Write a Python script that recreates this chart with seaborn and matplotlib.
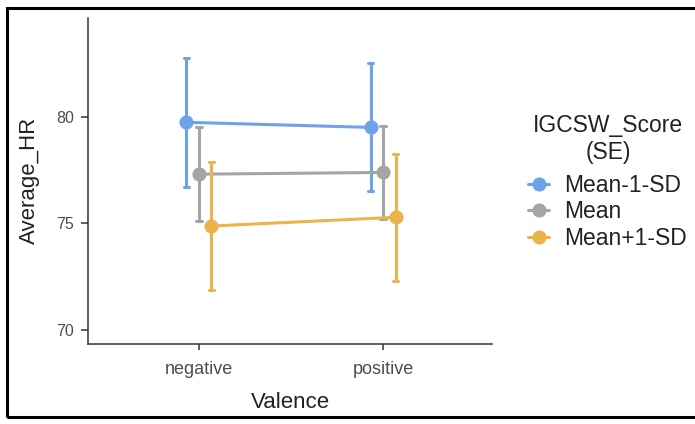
import pandas as pd
import matplotlib.pyplot as plt
import matplotlib.patches as mpatches
import seaborn as sns

# Values
valence = ['negative', 'positive']
groups = ['Mean-1-SD', 'Mean', 'Mean+1-SD']
means = {
    'Mean-1-SD': [79.75, 79.51],
    'Mean': [77.31, 77.39],
    'Mean+1-SD': [74.87, 75.28],
}
se = {
    'Mean-1-SD': [3.03, 3.01],
    'Mean': [2.20, 2.17],
    'Mean+1-SD': [2.99, 2.99],
}
colors = ['#6fa3e8', '#a5a5a5', '#ebb44b']

# two rows per cell (mean - se, mean + se) so that the mean is the estimate
# and the full percentile range is the error bar
rows = []
for g in groups:
    for i, v in enumerate(valence):
        for sign in (-1, 1):
            rows.append({'Valence': v, 'IGCSW_Score': g,
                         'Average_HR': means[g][i] + sign * se[g][i]})
df = pd.DataFrame(rows)

sns.set_style('ticks')
plt.rcParams['font.family'] = ['Liberation Sans', 'DejaVu Sans']

fig = plt.figure(figsize=(6.95, 4.24), dpi=100)
ax = fig.add_axes([0.1266, 0.1887, 0.5813, 0.77])

sns.pointplot(data=df, x='Valence', y='Average_HR', hue='IGCSW_Score',
              order=valence, hue_order=groups, palette=colors,
              estimator='mean', errorbar=('pi', 100), dodge=0.136,
              capsize=0.03, markersize=8.5, linewidth=2.2,
              err_kws={'linewidth': 2.2}, ax=ax)

ax.set_xlim(-0.603, 1.592)
ax.set_ylim(69.32, 84.68)
ax.set_yticks([70, 75, 80])

sns.despine(ax=ax)
for s in ['left', 'bottom']:
    ax.spines[s].set_linewidth(1.1)
    ax.spines[s].set_color('#333333')
ax.tick_params(axis='both', width=1.1, color='#333333', labelcolor='#4d4d4d')
ax.tick_params(axis='x', length=4, labelsize=13, pad=8.5)
ax.tick_params(axis='y', length=5, labelsize=11.5, pad=5)

ax.set_xlabel('Valence', fontsize=16, color='#222222', labelpad=10)
ax.set_ylabel('Average_HR', fontsize=16, color='#222222', labelpad=12)

# legend entries, with the two-line title placed above them
handles, labels = ax.get_legend_handles_labels()
ax.get_legend().remove()
leg = fig.legend(handles, labels, loc='center left',
                 bbox_to_anchor=(0.7305, 0.5), frameon=False,
                 fontsize=16.5, handlelength=0.9, handletextpad=0.65,
                 labelspacing=0.16)
for t in leg.get_texts():
    t.set_color('#222222')
fig.text(608 / 695, 1 - 139 / 424, 'IGCSW_Score\n(SE)', ha='center',
         va='center', multialignment='center', fontsize=16.5,
         linespacing=1.18, color='#222222')

# black frame around the figure
fig.patches.append(mpatches.Rectangle((0.0105, 0.016), 1.0, 0.965,
                                      transform=fig.transFigure, fill=False,
                                      edgecolor='black', linewidth=2.2))

fig.savefig('out.png', dpi=100)
